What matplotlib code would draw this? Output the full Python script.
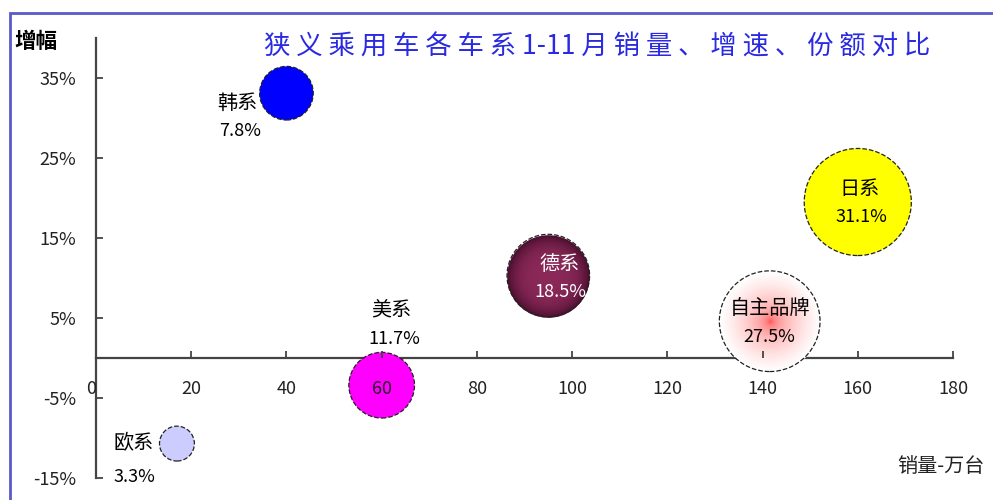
import numpy as np
import matplotlib.pyplot as plt
from matplotlib.colors import to_rgb
from matplotlib.patches import Rectangle

plt.rcParams['font.family'] = ['Noto Sans CJK SC', 'DejaVu Sans']
plt.rcParams['axes.unicode_minus'] = False

# 各车系 1-11月 销量(万台)、增速(%)、份额(%)
groups = ['欧系', '韩系', '美系', '德系', '自主品牌', '日系']
sales = [17.0, 40.0, 60.0, 95.0, 141.5, 160.0]
growth = [-10.7, 33.1, -3.4, 10.3, 4.6, 19.5]
share = [3.3, 7.8, 11.7, 18.5, 27.5, 31.1]

x_ticks = [0, 20, 40, 60, 80, 100, 120, 140, 160, 180]
y_ticks = [-15, -5, 5, 15, 25, 35]
y_tick_labels = ['-15%', '-5%', '5%', '15%', '25%', '35%']

# 气泡颜色: (中心色, 边缘色, 渐变指数)
fills = [('#ccccff', '#ccccff', 1), ('#0000ff', '#0000ff', 1), ('#ff00ff', '#ff00ff', 1),
         ('#8a2858', '#4a0f2e', 4.0), ('#ff2020', '#ffffff', 0.35), ('#ffff00', '#ffff00', 1)]
# 标签位置(像素偏移, 相对气泡中心)和颜色
label_offsets = [(-43, 0, -43, -33), (-49, -10, -46, -38), (10, 75, 13, 46),
                 (11, 11, 12, -16), (0, 12, 0, -16), (2, 12, 4, -15)]
label_colors = ['black', 'black', 'black', 'white', 'black', 'black']

fig = plt.figure(figsize=(9.93, 5.0), dpi=100)
ax = fig.add_axes([96 / 993, 0.044, 857 / 993, 0.880])
ax.set_xlim(0, 180)
ax.set_ylim(-15, 40)

px_per_pct = 9.6 * 0.72  # 气泡半径(pt) 与 sqrt(份额) 之比
for i, g in enumerate(groups):
    r = px_per_pct * np.sqrt(share[i])
    c0, c1 = np.array(to_rgb(fills[i][0])), np.array(to_rgb(fills[i][1]))
    if fills[i][0] == fills[i][1]:
        ax.scatter(sales[i], growth[i], s=(2 * r) ** 2, color=c0,
                   edgecolors='#222222', linewidths=0.9, linestyle='--', zorder=3)
    else:
        # 渐变填充: 由外向内叠加
        steps = 40
        for k in range(steps):
            f = 1 - k / steps
            col = c0 + (c1 - c0) * f ** fills[i][2]
            ax.scatter(sales[i], growth[i], s=(2 * r * f) ** 2, color=col,
                       linewidths=0, zorder=3)
        ax.scatter(sales[i], growth[i], s=(2 * r) ** 2, facecolors='none',
                   edgecolors='#222222', linewidths=0.9, linestyle='--', zorder=3)
    dx1, dy1, dx2, dy2 = label_offsets[i]
    ax.annotate(g, (sales[i], growth[i]), xytext=(dx1 * 0.72, dy1 * 0.72),
                textcoords='offset points', ha='center', va='center',
                fontsize=14.5, color=label_colors[i], zorder=5)
    ax.annotate(f'{share[i]}%', (sales[i], growth[i]), xytext=(dx2 * 0.72, dy2 * 0.72),
                textcoords='offset points', ha='center', va='center',
                fontsize=13, color=label_colors[i], zorder=5)

# 坐标轴: 横轴在 y=0 处
for side in ['top', 'right']:
    ax.spines[side].set_visible(False)
ax.spines['bottom'].set_position(('data', 0))
for side in ['left', 'bottom']:
    ax.spines[side].set_color('#444444')
    ax.spines[side].set_linewidth(1.6)
    ax.spines[side].set_zorder(1)
ax.spines['left'].set_bounds(-15, 40)

ax.set_xticks(x_ticks)
ax.set_xticklabels([str(v) for v in x_ticks])
ax.get_xticklabels()[0].set_ha('right')
ax.set_yticks(y_ticks)
ax.set_yticklabels(y_tick_labels)
ax.tick_params(axis='x', direction='in', length=5, width=1.3, color='#444444',
               pad=16, labelsize=13, labelcolor='#222222')
ax.tick_params(axis='y', direction='in', length=5, width=1.3, color='#444444',
               pad=14, labelsize=13, labelcolor='#222222')
for lab in ax.get_xticklabels():
    lab.set_zorder(6)
ax.xaxis.set_zorder(4)

fig.text(14 / 993, 1 - 42 / 500, '增幅', fontsize=15.5, fontweight='bold',
         ha='left', va='center')
fig.text(897 / 993, 1 - 467 / 500, '销量-万台', fontsize=14.5,
         ha='left', va='center', color='#222222')

# 标题字间加空格, 数字部分保持连在一起
title = '狭义乘用车各车系1-11月销量、增速、份额对比'
spaced = ' '.join(''.join(ch if ch.isascii() else ' ' + ch + ' ' for ch in title).split())
fig.text(597 / 993, 1 - 47 / 500, spaced,
         fontsize=19, color='#2a2ae0', ha='center', va='center')

# 外框
fig.patches.append(Rectangle((10 / 993, -0.5), 1.5, 0.5 + 1 - 13 / 500,
                             transform=fig.transFigure, fill=False,
                             edgecolor='#5a5ac8', linewidth=2))

fig.savefig('out.png', dpi=100)
